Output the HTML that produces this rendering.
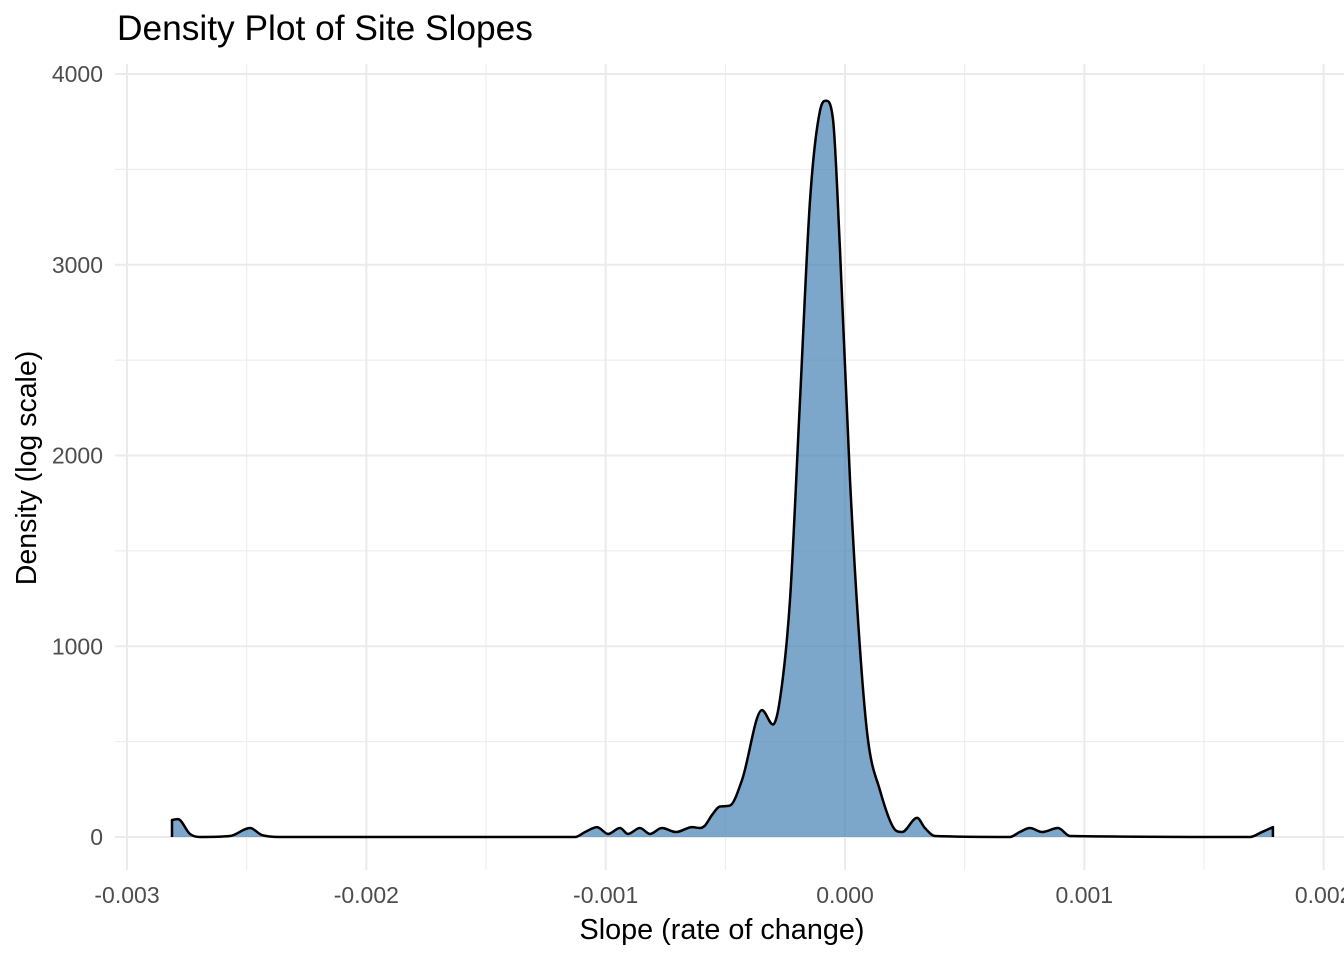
<!DOCTYPE html>
<html><head><meta charset="utf-8"><style>
body{margin:0;background:#fff}
svg text{font-family:"Liberation Sans",sans-serif}
</style></head><body>
<svg id="c" width="1344" height="960" xmlns="http://www.w3.org/2000/svg">
<text x="117" y="40" font-size="35.3" fill="#000">Density Plot of Site Slopes</text>
<g id="grid"></g>
<g id="marks"></g>
<g id="axes"></g>
<text x="722" y="939" font-size="28.8" text-anchor="middle">Slope (rate of change)</text>
<text transform="translate(36,468) rotate(-90)" font-size="28.5" text-anchor="middle">Density (log scale)</text>
</svg>
<script>
const slopeK=[-2.812,-2.787,-2.737,-2.695,-2.570,-2.486,-2.436,-2.361,-1.128,-1.086,-1.036,-0.990,-0.940,-0.907,-0.857,-0.815,-0.765,-0.706,-0.639,-0.606,-0.585,-0.556,-0.522,-0.481,-0.430,-0.347,-0.301,-0.272,-0.230,-0.188,-0.146,-0.104,-0.079,-0.050,-0.021,0.021,0.063,0.096,0.146,0.201,0.238,0.301,0.334,0.376,0.689,0.730,0.773,0.823,0.890,0.940,1.692,1.742,1.788];
const density=[89,94,16,0,5,47,10,0,0,26,52,16,47,16,47,16,47,26,52,47,60,115,160,165,300,665,590,720,1240,2290,3340,3810,3860,3760,3080,1870,980,510,245,52,26,100,47,5,0,26,47,26,47,5,0,26,52];
const xTicks=[-0.003,-0.002,-0.001,0,0.001,0.002];
const xTickLabels=["-0.003","-0.002","-0.001","0.000","0.001","0.002"];
const yTicks=[0,1000,2000,3000,4000];
const ns="http://www.w3.org/2000/svg";
const X=v=>845+v*239333, Y=v=>837-v*0.19075;
function mk(t,a,p){const e=document.createElementNS(ns,t);for(const k in a)e.setAttribute(k,a[k]);p.appendChild(e);return e;}
const grid=document.getElementById('grid'),axes=document.getElementById('axes'),marks=document.getElementById('marks');
for(let i=0;i<xTicks.length;i++){
 const x=X(xTicks[i]);
 const l=mk('line',{x1:x,x2:x,y1:64,y2:870,stroke:'#ebebeb','stroke-width':2},grid);
 
 
 if(i<xTicks.length-1){const xm=X((xTicks[i]+xTicks[i+1])/2);
  const m=mk('line',{x1:xm,x2:xm,y1:64,y2:870,stroke:'#ebebeb','stroke-width':1},grid);
  
  }
 const t=mk('text',{x:x,y:903,'font-size':23,fill:'#4d4d4d','text-anchor':'middle'},axes);t.textContent=xTickLabels[i];
 
 
}
for(let i=0;i<yTicks.length;i++){
 const y=Y(yTicks[i]);
 const l=mk('line',{x1:115,x2:1344,y1:y,y2:y,stroke:'#ebebeb','stroke-width':2},grid);
 
 
 if(i<yTicks.length-1){const ym=Y((yTicks[i]+yTicks[i+1])/2);
  const m=mk('line',{x1:115,x2:1344,y1:ym,y2:ym,stroke:'#ebebeb','stroke-width':1},grid);
  
  }
 const t=mk('text',{x:103,y:y+8,'font-size':23,fill:'#4d4d4d','text-anchor':'end'},axes);t.textContent=yTicks[i];
 
 
}
const P=slopeK.map((s,i)=>[X(s/1000),Y(density[i])]);
const n=P.length,dk=[],m=[];
for(let i=0;i<n-1;i++)dk.push((P[i+1][1]-P[i][1])/(P[i+1][0]-P[i][0]));
m[0]=dk[0];m[n-1]=dk[n-2];
for(let i=1;i<n-1;i++){m[i]=(dk[i-1]*dk[i]<=0)?0:(dk[i-1]+dk[i])/2;}
for(let i=0;i<n-1;i++){
 if(dk[i]===0){m[i]=0;m[i+1]=0;continue;}
 const a=m[i]/dk[i],b=m[i+1]/dk[i],s=a*a+b*b;
 if(s>9){const t=3/Math.sqrt(s);m[i]=t*a*dk[i];m[i+1]=t*b*dk[i];}
}
let d='M'+P[0][0]+','+P[0][1];
for(let i=0;i<n-1;i++){
 const h=(P[i+1][0]-P[i][0])/3;
 d+=` C${P[i][0]+h},${P[i][1]+m[i]*h} ${P[i+1][0]-h},${P[i+1][1]-m[i+1]*h} ${P[i+1][0]},${P[i+1][1]}`;
}
const last=P[n-1],first=P[0];
const area=mk('path',{d:d+` L${last[0]},${Y(0)} L${first[0]},${Y(0)} Z`,fill:'#4682b4','fill-opacity':0.7,stroke:'none'},marks);


const line=mk('path',{d:`M${first[0]},${Y(0)} L`+d.slice(1)+` L${last[0]},${Y(0)}`,fill:'none',stroke:'#000','stroke-width':2.5,'stroke-linejoin':'round'},marks);


</script>
</body></html>
